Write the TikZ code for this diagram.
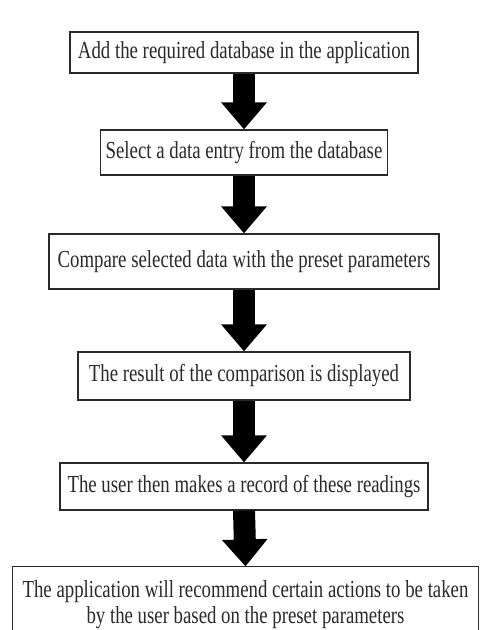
\documentclass[tikz,border=0pt]{standalone}
\usepackage{fontspec}
\setmainfont{Liberation Serif}
\usetikzlibrary{arrows.meta}
\definecolor{ink}{HTML}{2A2A2A}
\newcommand{\tx}[1]{\scalebox{1}[1.3]{#1}}
\tikzset{
  stepbox/.style={draw=ink, line width=1.2pt, fill=white, inner sep=0pt, align=center,
    text=ink, font=\fontsize{18.8}{22}\selectfont},
  bigarrow/.style={draw=black, line width=22pt,
    -{Triangle[width=44pt,length=27pt]}},
}
\begin{document}
\begin{tikzpicture}[x=1pt,y=-1pt]
\useasboundingbox[fill=white] (0,0) rectangle (487,630);
\node[stepbox, minimum width=348pt, minimum height=41pt] (b1) at (244,52.5) {\tx{Add the required database in the application}};
\node[stepbox, minimum width=287pt, minimum height=45pt] (b2) at (244,152.5) {\tx{Select a data entry from the database}};
\node[stepbox, minimum width=390pt, minimum height=55pt] (b3) at (244,261.5) {\tx{Compare selected data with the preset parameters}};
\node[stepbox, minimum width=332pt, minimum height=48pt] (b4) at (244,376) {\tx{The result of the comparison is displayed}};
\node[stepbox, minimum width=368pt, minimum height=47pt] (b5) at (244,486.5) {\tx{The user then makes a record of these readings}};
\node[stepbox, draw=none, minimum width=465pt, minimum height=76pt] (b6) at (245.5,605) {\tx{The application will recommend certain actions to be taken}\\[3pt]\tx{by the user based on the preset parameters}};
\draw[draw=ink, line width=1.2pt] (b6.west |- 0,630) -- (b6.north west) -- (b6.north east) -- (b6.east |- 0,630);
\draw[bigarrow] (b1.south) -- (b2.north);
\draw[bigarrow] (b2.south) -- (b3.north);
\draw[bigarrow] (b3.south) -- (b4.north);
\draw[bigarrow] (b4.south) -- (b5.north);
\draw[bigarrow] (b5.south) -- (b6.north);
\end{tikzpicture}
\end{document}
